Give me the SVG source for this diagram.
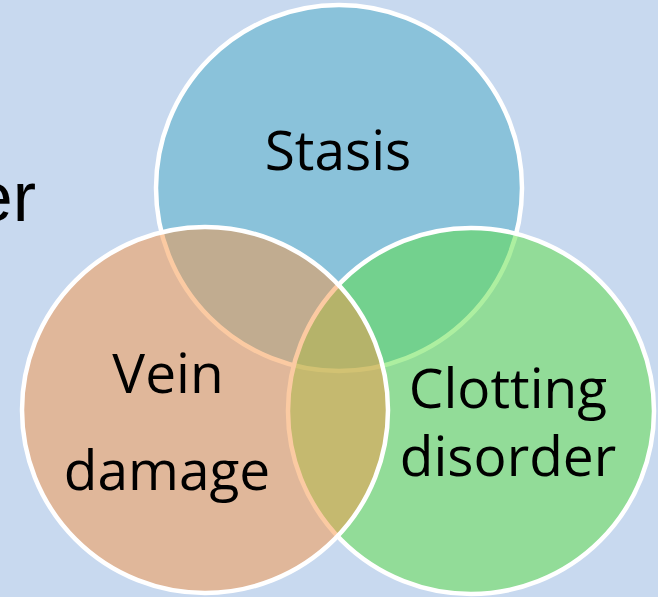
<svg xmlns="http://www.w3.org/2000/svg" width="658" height="597" viewBox="0 0 658 597">
  <style>
    .circ { stroke: #ffffff; stroke-width: 4.5; }
    .lbl { font-family: "Open Sans", "Noto Sans", sans-serif; font-size: 55px; fill: #000000; text-anchor: middle; }
    .title { font-family: "Liberation Sans", Arial, sans-serif; font-size: 70px; fill: #000000; text-anchor: end; }
  </style>
  <rect x="0" y="0" width="658" height="597" fill="#c8d9ef"/>
  <text class="title" x="36" y="221">er</text>
  <g id="stasis">
    <circle class="circ" cx="339" cy="188" r="183" fill="#4bacc6" fill-opacity="0.5"/>
    <text class="lbl" x="338" y="170">Stasis</text>
  </g>
  <g id="clotting-disorder">
    <circle class="circ" cx="471" cy="411" r="183" fill="#5cdf41" fill-opacity="0.5"/>
  </g>
  <g id="vein-damage">
    <circle class="circ" cx="205" cy="410" r="183" fill="#f79646" fill-opacity="0.5"/>
  </g>
  <g id="labels">
    <text class="lbl" x="168" y="393">Vein</text>
    <text class="lbl" x="167" y="490">damage</text>
    <text class="lbl" x="508" y="408">Clotting</text>
    <text class="lbl" x="508" y="476">disorder</text>
  </g>
</svg>
